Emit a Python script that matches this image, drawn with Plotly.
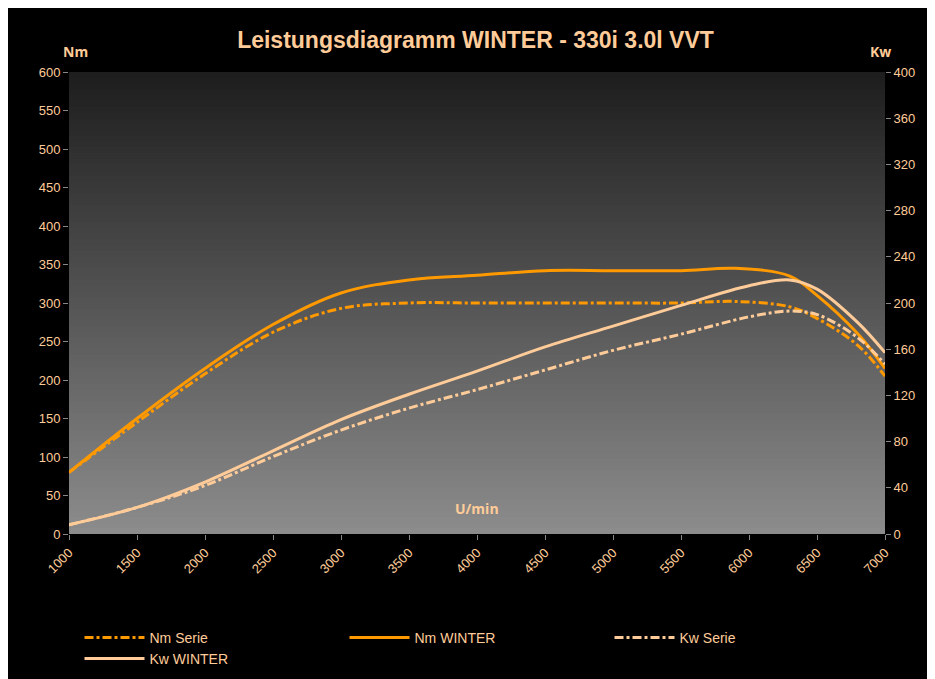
import plotly.graph_objects as go

rpm = [1000, 1500, 2000, 2500, 3000, 3500, 4000, 4500, 5000, 5500, 5900, 6300, 6500, 6800, 7000]
nm_winter = [80, 150, 215, 272, 313, 330, 336, 342, 342, 342, 345, 335, 310, 260, 215]
nm_serie = [80, 145, 208, 262, 293, 300, 300, 300, 300, 300, 302, 295, 280, 245, 205]

rpm_kw = [1000, 1500, 2000, 2500, 3000, 3500, 4000, 4500, 5000, 5500, 6000, 6300, 6500, 6800, 7000]
kw_winter = [8, 23, 45, 72, 99, 121, 141, 162, 180, 198, 215, 220, 212, 183, 157]
kw_serie = [8, 23, 42, 67, 90, 109, 125, 142, 159, 173, 188, 193, 190, 170, 147]

orange = "#FF9900"
light = "#FFCC99"

fig = go.Figure()
fig.add_trace(go.Scatter(x=rpm, y=nm_serie, name="Nm Serie", mode="lines",
                         line=dict(color=orange, width=3, dash="dashdot", shape="spline")))
fig.add_trace(go.Scatter(x=rpm, y=nm_winter, name="Nm WINTER", mode="lines",
                         line=dict(color=orange, width=3, shape="spline")))
fig.add_trace(go.Scatter(x=rpm_kw, y=kw_serie, name="Kw Serie", yaxis="y2", mode="lines",
                         line=dict(color=light, width=3, dash="dashdot", shape="spline")))
fig.add_trace(go.Scatter(x=rpm_kw, y=kw_winter, name="Kw WINTER", yaxis="y2", mode="lines",
                         line=dict(color=light, width=3, shape="spline")))

# vertical grey gradient behind the plot (overlapping bands to avoid seams)
n = 80
for i in range(n):
    g = int(0x1e + (0x8c - 0x1e) * i / (n - 1))
    fig.add_shape(type="rect", xref="x domain", yref="y domain", x0=0, x1=1,
                  y0=max(0, 1 - (i + 1.6) / n), y1=1 - i / n, line_width=0,
                  fillcolor=f"rgb({g},{g},{g})", layer="below")

tick = dict(color=light, size=13, family="Liberation Sans")
fig.update_layout(
    width=935, height=679,
    paper_bgcolor="black", plot_bgcolor="black",
    margin=dict(l=61, r=58, t=64, b=120),
    title=dict(text="<b>Leistungsdiagramm WINTER - 330i 3.0l VVT</b>", x=0.5, y=0.965,
               font=dict(color=light, size=23, family="Liberation Sans")),
    xaxis=dict(range=[1000, 7000], dtick=500, tickangle=-45, tickfont=tick,
               showgrid=False, zeroline=False, ticks="outside", tickcolor="#888"),
    yaxis=dict(range=[0, 600], dtick=50, tickfont=tick, showgrid=False, zeroline=False,
               ticks="outside", tickcolor="#888"),
    yaxis2=dict(range=[0, 400], dtick=40, overlaying="y", side="right", tickfont=tick,
                showgrid=False, zeroline=False, ticks="outside", tickcolor="#888"),
    legend=dict(orientation="h", x=0.5, xanchor="center", y=-0.19, yanchor="top",
                font=dict(color=light, size=14, family="Liberation Sans"),
                bgcolor="rgba(0,0,0,0)", entrywidth=190, itemwidth=60, traceorder="normal"),
    annotations=[
        dict(text="<b>Nm</b>", xref="paper", yref="paper", x=-0.01, y=1.02, yanchor="bottom",
             showarrow=False, font=dict(color=light, size=14)),
        dict(text="<b>Kw</b>", xref="paper", yref="paper", x=1.01, y=1.02, yanchor="bottom",
             showarrow=False, font=dict(color=light, size=14)),
        dict(text="<b>U/min</b>", xref="paper", yref="paper", x=0.5, y=0.03,
             showarrow=False, font=dict(color=light, size=14)),
    ],
)
fig.write_html("out.html")
